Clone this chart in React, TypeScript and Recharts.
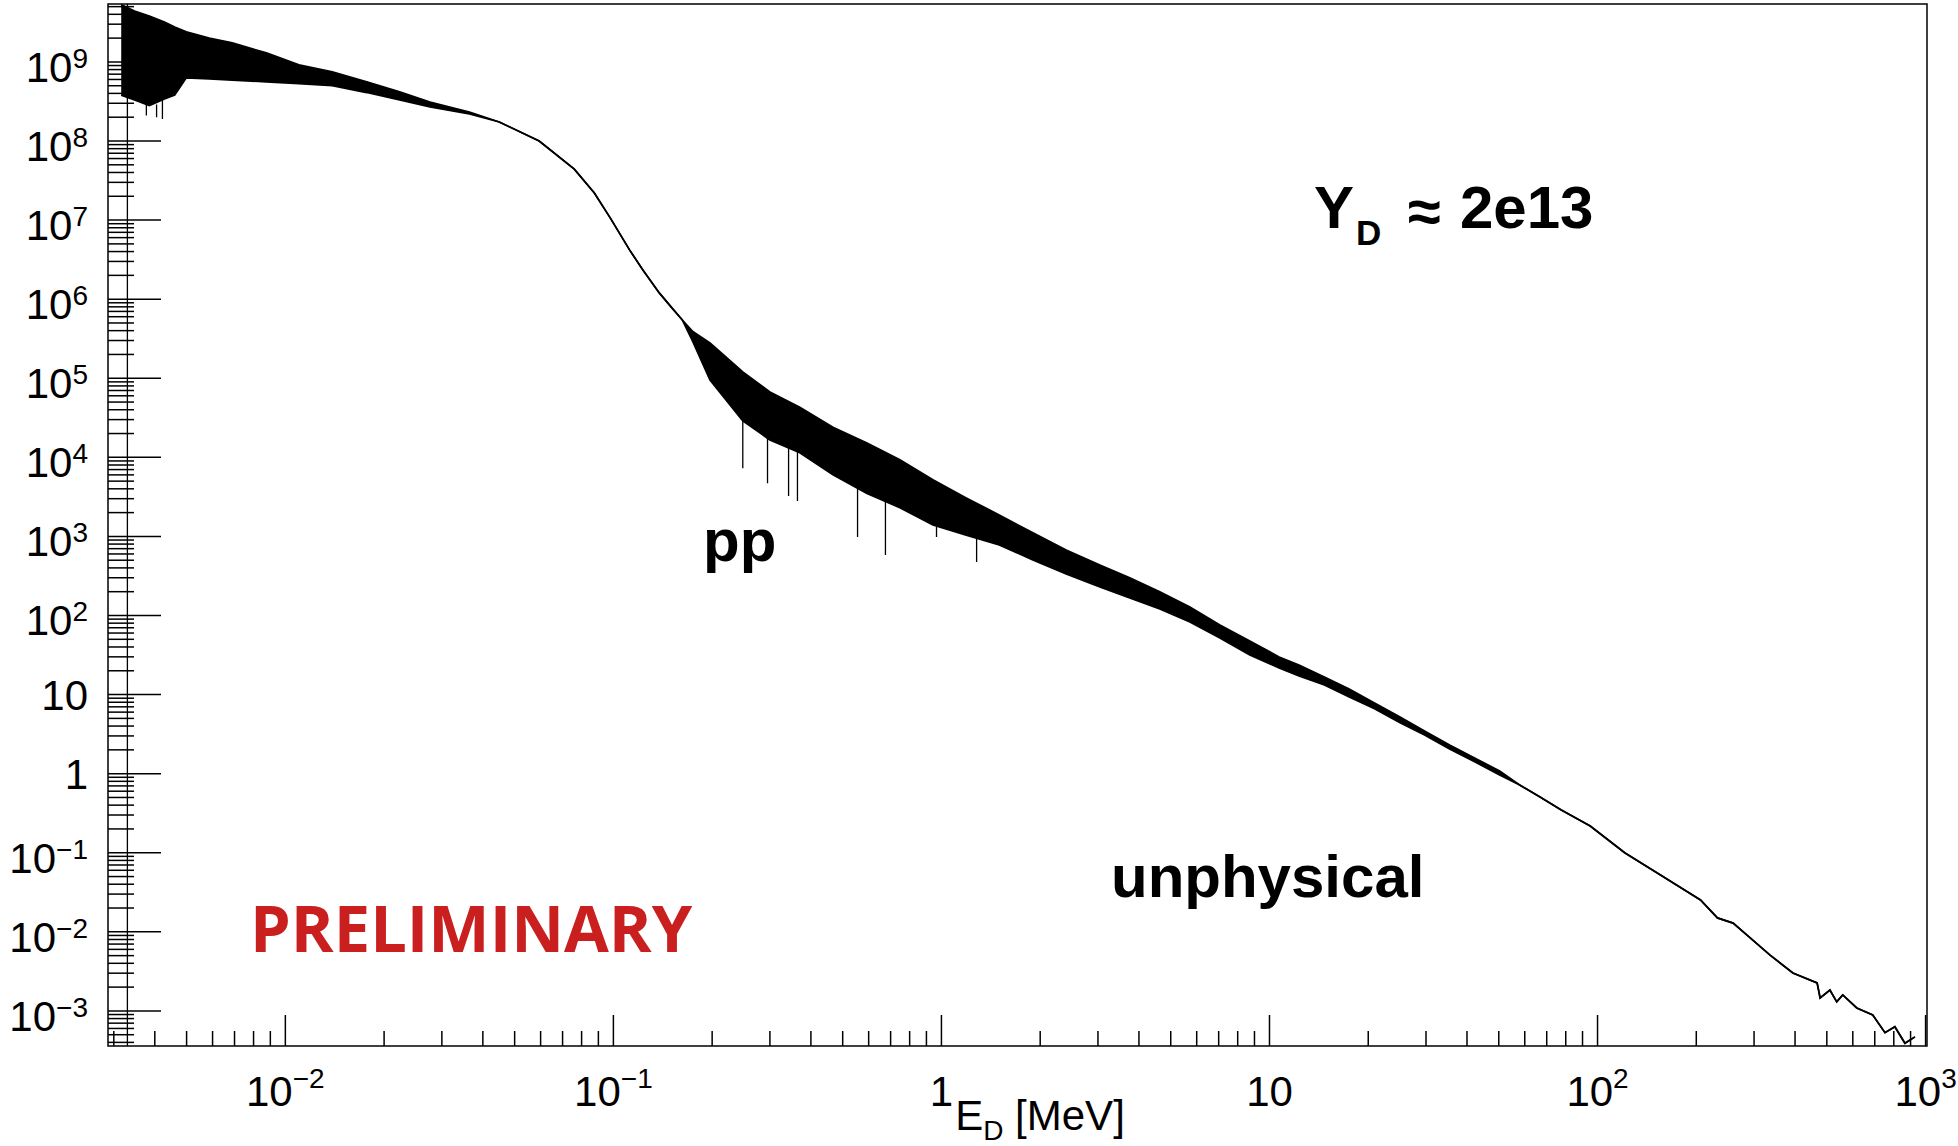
import { Area, ComposedChart, Line, ReferenceArea, XAxis, YAxis } from "recharts";

// deuteron energy spectrum (E in MeV)
const energy = [
  3.16e-3, 3.47e-3, 3.85e-3, 4.28e-3, 4.6e-3, 4.99e-3, 5.86e-3, 6.89e-3, 8.75e-3, 0.011,
  0.0139, 0.0177, 0.0223, 0.0276, 0.0364, 0.0449, 0.0594, 0.076, 0.0875, 0.0979,
  0.112, 0.123, 0.138, 0.151, 0.162, 0.1746, 0.197, 0.248, 0.3, 0.37,
  0.467, 0.593, 0.747, 0.942, 1.19, 1.5, 1.9, 2.4, 3.04, 3.75,
  4.63, 5.72, 7.06, 8.71, 10.7, 12.3, 14.7, 17.5, 20.9, 25.0,
  29.7, 35.4, 42.2, 50.3, 57.9, 66.6, 77.3, 95.0, 121, 156,
  206, 232, 259, 292, 335, 394, 467, 477, 511, 536,
  559, 617, 690, 752, 806, 865, 928,
];
const countsHigh = [
  5.3e9, 4.4e9, 3.8e9, 3.2e9, 2.77e9, 2.4e9, 2.0e9, 1.74e9, 1.3e9, 9.2e8,
  7.5e8, 5.6e8, 4.2e8, 3.1e8, 2.33e8, 1.74e8, 1.0e8, 4.4e7, 2.2e7, 1.06e7,
  4.2e6, 2.34e6, 1.2e6, 7.7e5, 5.5e5, 3.9e5, 2.8e5, 1.2e5, 6.7e4, 4.3e4,
  2.4e4, 1.52e4, 9.3e3, 5.2e3, 3.07e3, 1.87e3, 1.11e3, 675, 436, 299,
  199, 128, 76, 47.6, 29.9, 23.7, 16.7, 11.8, 7.8, 5.2,
  3.47, 2.31, 1.58, 1.08, 0.72, 0.51, 0.35, 0.218, 0.1, 0.052,
  0.0253, 0.015, 0.0129, 0.00836, 0.0051, 0.00302, 0.00226, 0.00146, 0.00184, 0.0013,
  0.00159, 0.00109, 8.9e-4, 5.3e-4, 6.3e-4, 3.9e-4, 4.7e-4,
];
const countsLow = [
  3.8e8, 3.3e8, 2.8e8, 3.4e8, 3.8e8, 6.3e8, 6.1e8, 5.9e8, 5.6e8, 5.3e8,
  5.0e8, 4.1e8, 3.3e8, 2.7e8, 2.2e8, 1.74e8, 1.0e8, 4.4e7, 2.2e7, 1.06e7,
  4.2e6, 2.34e6, 1.2e6, 7.7e5, 5.5e5, 2.9e5, 9.5e4, 2.9e4, 1.66e4, 1.14e4,
  6.0e3, 3.5e3, 2.3e3, 1.4e3, 1.04e3, 780, 505, 335, 230, 167,
  121, 83, 52, 31.7, 21.7, 17.2, 13.2, 9.3, 6.6, 4.4,
  3.08, 2.05, 1.41, 0.96, 0.72, 0.51, 0.35, 0.218, 0.1, 0.052,
  0.0253, 0.015, 0.0129, 0.00836, 0.0051, 0.00302, 0.00226, 0.00146, 0.00184, 0.0013,
  0.00159, 0.00109, 8.9e-4, 5.3e-4, 6.3e-4, 3.9e-4, 4.7e-4,
];

// single low bins that drop out of the band
const spikeEnergy = [3.3e-3, 3.77e-3, 4.05e-3, 4.22e-3, 0.248, 0.295, 0.342, 0.364, 0.555, 0.675, 0.966, 1.28];
const spikeTop = [5.4e9, 2.9e8, 2.9e8, 3.3e8, 2.9e4, 1.8e4, 1.35e4, 1.17e4, 4.1e3, 2.9e3, 1.32e3, 957];
const spikeBottom = [3.6e-4, 2.1e8, 2.0e8, 1.9e8, 7.3e3, 4.7e3, 3.25e3, 2.8e3, 985, 583, 985, 475];

const xDecades = [1e-3, 1e-2, 1e-1, 1, 10, 100];
const yDecades = [1e-4, 1e-3, 1e-2, 1e-1, 1, 10, 1e2, 1e3, 1e4, 1e5, 1e6, 1e7, 1e8, 1e9];
const minorSteps = [1, 2, 3, 4, 5, 6, 7, 8, 9];

const X_DOMAIN: [number, number] = [2.88e-3, 1.01e3];
const Y_DOMAIN: [number, number] = [3.6e-4, 5.4e9];

const FONT = "'Liberation Sans', Arial, Helvetica, sans-serif";

const inDomain = (v: number, d: [number, number]) => v >= d[0] && v <= d[1];
const buildTicks = (decades: number[], d: [number, number]) =>
  decades.flatMap((p) => minorSteps.map((m) => +(m * p).toPrecision(6))).filter((v) => inDomain(v, d));

const xTicks = [...buildTicks(xDecades, X_DOMAIN), 1000];
const yTicks = buildTicks(yDecades, Y_DOMAIN);

const bandData = energy.map((e, i) => ({ e, range: [countsLow[i], countsHigh[i]] }));
const spikeData = spikeEnergy.flatMap((e, i) => [
  { e, v: spikeTop[i] },
  { e, v: spikeBottom[i] },
  { e, v: null },
]);

const decadeOf = (v: number) => {
  const exp = Math.round(Math.log10(v));
  const major = Math.abs(v - Math.pow(10, exp)) / v < 1e-6;
  return { exp, major };
};

const expText = (exp: number) => (exp < 0 ? "\u2212" + -exp : String(exp));

const YTick = (props: any) => {
  const { x, y, payload } = props;
  const { exp, major } = decadeOf(payload.value);
  return (
    <g>
      <line x1={x} x2={x + (major ? 53 : 26)} y1={y} y2={y} stroke="#000" strokeWidth={1.5} />
      {major &&
        (exp === 0 || exp === 1 ? (
          <text x={x - 20} y={y + 15} textAnchor="end" fontSize={42} fontFamily={FONT} fill="#000">
            {exp === 0 ? "1" : "10"}
          </text>
        ) : (
          <text x={x - 20} y={y + 20} textAnchor="end" fontSize={42} fontFamily={FONT} fill="#000">
            10
            <tspan dy={-14} fontSize={28}>
              {expText(exp)}
            </tspan>
          </text>
        ))}
    </g>
  );
};

const XTick = (props: any) => {
  const { x, y, payload } = props;
  const { exp, major } = decadeOf(payload.value);
  return (
    <g>
      <line x1={x} x2={x} y1={y} y2={y - (major ? 31 : 15)} stroke="#000" strokeWidth={1.5} />
      {major &&
        (exp === 0 || exp === 1 ? (
          <text x={x} y={y + 60} textAnchor="middle" fontSize={42} fontFamily={FONT} fill="#000">
            {exp === 0 ? "1" : "10"}
          </text>
        ) : (
          <text x={x} y={y + 60} textAnchor="middle" fontSize={42} fontFamily={FONT} fill="#000">
            10
            <tspan dy={-18} fontSize={28}>
              {expText(exp)}
            </tspan>
          </text>
        ))}
    </g>
  );
};

const App = () => {
  return (
    <div style={{ position: "absolute", left: 0, top: 0, width: 1958, height: 1146, background: "#fff" }}>
      <ComposedChart width={1958} height={1146} margin={{ top: 4, right: 31, bottom: 0, left: 0 }}>
        <XAxis
          dataKey="e"
          type="number"
          scale="log"
          domain={X_DOMAIN}
          allowDataOverflow
          ticks={xTicks}
          interval={0}
          tick={XTick}
          tickLine={false}
          axisLine={false}
          tickSize={0}
          tickMargin={0}
          height={100}
        />
        <YAxis
          type="number"
          scale="log"
          domain={Y_DOMAIN}
          allowDataOverflow
          ticks={yTicks}
          interval={0}
          tick={YTick}
          tickLine={false}
          axisLine={false}
          tickSize={0}
          tickMargin={0}
          width={108}
        />
        <ReferenceArea
          x1={X_DOMAIN[0]}
          x2={X_DOMAIN[1]}
          y1={Y_DOMAIN[0]}
          y2={Y_DOMAIN[1]}
          fill="none"
          stroke="#000"
          strokeWidth={1.5}
          ifOverflow="visible"
        />
        <Area
          data={bandData}
          dataKey="range"
          type="linear"
          stroke="#000"
          strokeWidth={1.7}
          fill="#000"
          fillOpacity={1}
          dot={false}
          activeDot={false}
          isAnimationActive={false}
        />
        <Line
          data={spikeData}
          dataKey="v"
          type="linear"
          stroke="#000"
          strokeWidth={1.3}
          dot={false}
          activeDot={false}
          connectNulls={false}
          isAnimationActive={false}
        />
      </ComposedChart>

      <svg
        width={1958}
        height={1146}
        style={{ position: "absolute", left: 0, top: 0, pointerEvents: "none" }}
      >
        <g fontFamily={FONT} fill="#000">
          <text x={1040} y={1130} textAnchor="middle" fontSize={42}>
            E
            <tspan dy={10} fontSize={28}>
              D
            </tspan>
            <tspan dy={-10} fontSize={42}>
              {" [MeV]"}
            </tspan>
          </text>
          <text x={1314} y={228} fontSize={60} fontWeight="bold">
            Y
          </text>
          <text x={1356} y={245} fontSize={35} fontWeight="bold">
            D
          </text>
          <text x={1408} y={232} fontSize={60} fontWeight="bold">
            ≈
          </text>
          <text x={1460} y={228} fontSize={60} fontWeight="bold">
            2e13
          </text>
          <text x={703} y={561} fontSize={60} fontWeight="bold">
            pp
          </text>
          <text x={1111} y={897} fontSize={60} fontWeight="bold">
            unphysical
          </text>
        </g>
        <text x={250} y={952} fontSize={65} fontWeight="bold" fontFamily="'Open Sans', sans-serif" fill="#c9201f">
          PRELIMINARY
        </text>
      </svg>
    </div>
  );
};

export default App;
